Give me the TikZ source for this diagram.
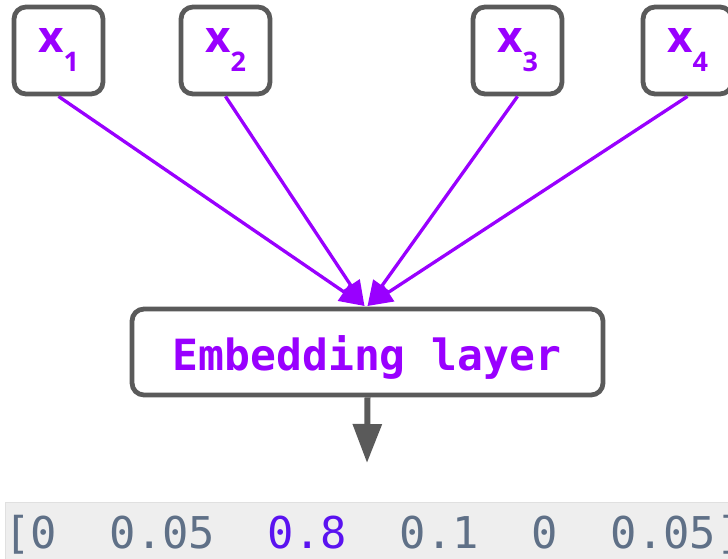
\documentclass[tikz,border=0pt]{standalone}
\usepackage{fontspec}
\usetikzlibrary{arrows.meta}
\newfontfamily\monofnt{DejaVu Sans Mono}
\newfontfamily\lblfnt{Open Sans}
\definecolor{purp}{HTML}{9900FF}
\definecolor{boxgray}{HTML}{5A5A5A}
\definecolor{bandgray}{HTML}{EEEEEE}
\definecolor{numgray}{HTML}{5F7087}
\definecolor{numviolet}{HTML}{5A12F0}
\tikzset{
  xbox/.style={draw=boxgray, line width=4.8pt, rounded corners=12pt, minimum width=89pt, minimum height=87pt, inner sep=0pt, fill=white},
  xlbl/.style={anchor=base, inner sep=0pt, text=purp, font=\lblfnt\bfseries\fontsize{44}{44}\selectfont},
  embbox/.style={draw=boxgray, line width=4.8pt, rounded corners=12pt, minimum width=471pt, minimum height=86pt, inner sep=0pt, fill=white},
  purparrow/.style={draw=purp, line width=3.3pt, -{Triangle[length=25pt,width=21pt]}},
  grayarrow/.style={draw=boxgray, line width=6pt, -{Triangle[length=39pt,width=28pt]}},
}
\newcommand{\subsc}[1]{\raisebox{-19pt}{\fontsize{27}{27}\selectfont #1}}
\begin{document}
\begin{tikzpicture}[x=1pt,y=-1pt]
\useasboundingbox (0,0) rectangle (728,559);
% band
\fill[bandgray] (5,502) rectangle (740,570);
\draw[draw=black!12, line width=0.8pt] (5,570) -- (5,502) -- (740,502);
\node[anchor=base west, inner sep=0pt, text=numgray, font=\monofnt\fontsize{43.8}{44}\selectfont] (vec) at (4,548)
  {[0~~0.05~~\textcolor{numviolet}{0.8}~~0.1~~0~~0.05]};
% input boxes
\node[xbox] (x1) at (58.5,50.5) {};
\node[xbox] (x2) at (225.5,50.5) {};
\node[xbox] (x3) at (517.5,50.5) {};
\node[xbox] (x4) at (687.5,50.5) {};
\node[xlbl] (l1) at (58.5,53) {x\subsc{1}};
\node[xlbl] (l2) at (225.5,53) {x\subsc{2}};
\node[xlbl] (l3) at (517.5,53) {x\subsc{3}};
\node[xlbl] (l4) at (687.5,53) {x\subsc{4}};
% embedding
\node[embbox] (emb) at (367.5,352) {};
\node[anchor=base, inner sep=0pt, text=purp, font=\monofnt\bfseries\fontsize{43}{43}\selectfont] (embt) at (367,370) {Embedding layer};
% arrows
\coordinate (tipL) at (364.5,306);
\coordinate (tipR) at (367.5,306);
\draw[purparrow] (x1.south) -- (tipL);
\draw[purparrow] (x2.south) -- (tipL);
\draw[purparrow] (x3.south) -- (tipR);
\draw[purparrow] (x4.south) -- (tipR);
\coordinate (out) at (367,463);
\draw[grayarrow] (emb.south) -- (out);
\end{tikzpicture}
\end{document}
